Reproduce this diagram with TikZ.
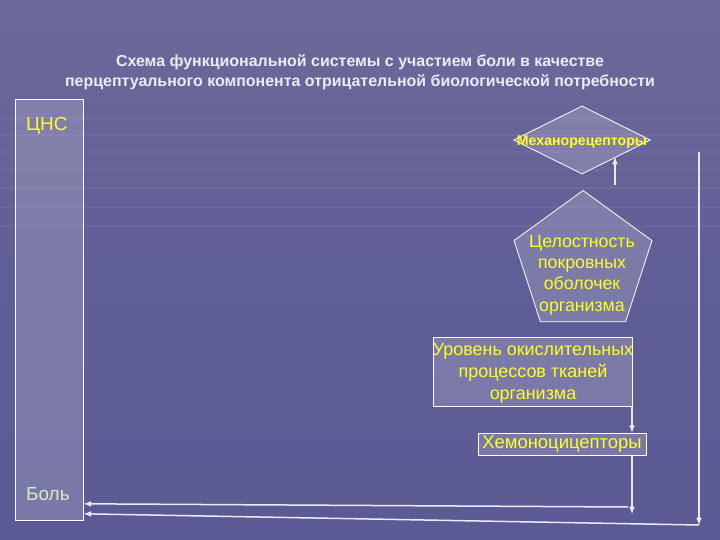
\documentclass[tikz,border=0pt]{standalone}
\usepackage{fontspec}
\setmainfont{Liberation Sans}
\usetikzlibrary{positioning, shapes.geometric, arrows}
\usepackage{xcolor}
\definecolor{bgtop}{RGB}{108,106,154}
\definecolor{bgmid}{RGB}{96,94,150}
\definecolor{bgbot}{RGB}{92,90,148}
\definecolor{ltyellow}{RGB}{255,255,40}
\definecolor{palegreen}{RGB}{215,235,200}
\definecolor{titlegray}{RGB}{235,235,245}
\tikzstyle{arrow} = [line width=1.5bp,->,>=latex,white!92!blue]

\begin{document}
\begin{tikzpicture}[
    x=1bp, y=-1bp,
    shapebox/.style={draw=white, line width=0.8bp, fill=white, fill opacity=0.18, text opacity=1, inner sep=0pt},
    ylabel/.style={text=ltyellow, font=\fontsize{18}{22}\selectfont, align=center, inner sep=0pt}
  ]

  % background
  \shade[top color=bgtop, bottom color=bgbot, middle color=bgmid] (0,0) rectangle (720,540);
  \useasboundingbox (0,0) rectangle (720,540);
  \foreach \yy in {118,135,152,170,188,207,226}
    \draw[white, opacity=0.05, line width=2bp] (0,\yy) -- (720,\yy);

  \node[text=titlegray, align=center, font=\bfseries\fontsize{16}{20}\selectfont] (title) at (360,72)
    {Схема функциональной системы с участием боли в качестве\\
     перцептуального компонента отрицательной биологической потребности};

  % CNS column
  \node[shapebox, minimum width=68bp, minimum height=421bp, anchor=north west] (cns) at (15,99) {};
  \node[text=ltyellow, font=\fontsize{19}{21}\selectfont, anchor=west, inner sep=0pt] (cnslbl) at (26,126) {ЦНС};
  \node[text=palegreen, font=\fontsize{19}{21}\selectfont, anchor=west, inner sep=0pt] (pain) at (26,494) {Боль};

  % receptors and states
  \node[shapebox, diamond, minimum width=137bp, minimum height=68bp] (mech) at (582,140) {};
  \node[text=ltyellow, font=\bfseries\fontsize{14.2}{16}\selectfont, inner sep=0pt] (mechlbl) at (582,142) {Механорецепторы};

  \node[shapebox, regular polygon, regular polygon sides=5, minimum size=145bp] (skin) at (583,263) {};
  \node[ylabel, font=\fontsize{17.8}{21.3}\selectfont] (skinlbl) at (582,275) {Целостность\\покровных\\оболочек\\организма};

  \node[shapebox, minimum width=199bp, minimum height=69bp] (oxid) at (532.5,371.5) {};
  \node[ylabel] (oxidlbl) at (533,373) {Уровень окислительных\\процессов тканей\\организма};

  \node[shapebox, minimum width=168bp, minimum height=22bp] (chemo) at (562,444) {};
  \node[ylabel, font=\fontsize{18.5}{22}\selectfont] (chemolbl) at (562,444) {Хемоноцицепторы};

  % connectors
  \coordinate (skinup) at (615,185);
  \coordinate (mechin) at (615,157);
  \draw[arrow] (skinup) -- (mechin);

  \coordinate (oxidout) at (632,406);
  \draw[arrow] (oxidout) -- (oxidout |- chemo.north);

  \coordinate (chemoend) at (632,514);
  \draw[arrow] (chemoend |- chemo.south) -- (chemoend);
  \coordinate (chemoline) at (628,507);
  \draw[arrow] (chemoline) -- ([yshift=17bp]cns.south east);

  \coordinate (righttop) at (699,152);
  \coordinate (rightbot) at (699,525);
  \draw[arrow] (righttop) -- (rightbot);
  \draw[arrow] (rightbot) -- ([yshift=7bp]cns.south east);

\end{tikzpicture}
\end{document}
